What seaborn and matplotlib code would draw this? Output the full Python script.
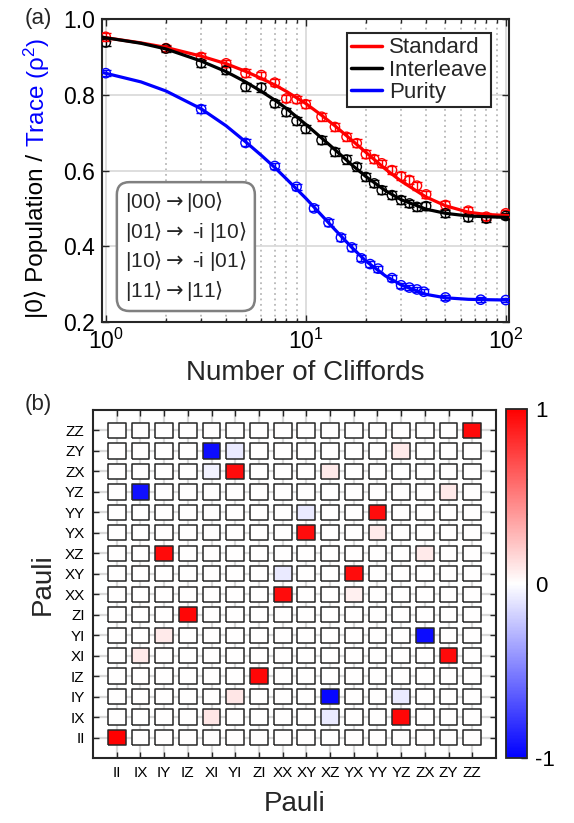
import numpy as np
import pandas as pd
import matplotlib
matplotlib.use('Agg')
import matplotlib.pyplot as plt
import seaborn as sns
from matplotlib.colors import LinearSegmentedColormap, Normalize
from matplotlib.cm import ScalarMappable
from matplotlib.lines import Line2D

# ---- panel (a): randomized benchmarking data ----
std_x = [1, 2, 3, 4, 5, 6, 7, 8, 9, 10, 12, 14, 16, 18, 20, 22, 24, 27, 30, 33, 36, 40, 50, 65, 80, 100]
std_y = [0.953, 0.923, 0.900, 0.883, 0.857, 0.852, 0.832, 0.790, 0.788, 0.775, 0.742, 0.715, 0.689,
         0.672, 0.643, 0.630, 0.619, 0.601, 0.585, 0.575, 0.560, 0.537, 0.509, 0.494, 0.478, 0.487]
std_err = [0.010, 0.008, 0.009, 0.010, 0.010, 0.009, 0.010, 0.010, 0.009, 0.010, 0.010, 0.011, 0.010,
           0.010, 0.011, 0.010, 0.010, 0.011, 0.010, 0.010, 0.011, 0.010, 0.010, 0.009, 0.009, 0.009]

int_x = [1, 2, 3, 4, 5, 6, 7, 8, 9, 10, 12, 14, 16, 18, 20, 22, 24, 27, 30, 33, 36, 40, 50, 65, 80, 100]
int_y = [0.938, 0.922, 0.883, 0.865, 0.821, 0.819, 0.777, 0.754, 0.731, 0.710, 0.680, 0.649, 0.629,
         0.610, 0.583, 0.566, 0.548, 0.535, 0.522, 0.513, 0.504, 0.506, 0.487, 0.476, 0.473, 0.480]
int_err = [0.010, 0.008, 0.010, 0.010, 0.010, 0.011, 0.010, 0.010, 0.010, 0.011, 0.010, 0.010, 0.011,
           0.010, 0.010, 0.010, 0.011, 0.010, 0.010, 0.010, 0.010, 0.011, 0.009, 0.009, 0.009, 0.009]

pur_x = [1, 3, 5, 7, 9, 11, 13, 15, 17, 19, 21, 23, 27, 30, 33, 36, 39, 50, 75, 100]
pur_y = [0.857, 0.762, 0.673, 0.612, 0.557, 0.500, 0.463, 0.423, 0.397, 0.368, 0.353, 0.341,
         0.316, 0.297, 0.291, 0.286, 0.280, 0.265, 0.259, 0.258]
pur_err = [0.008, 0.010, 0.009, 0.009, 0.008, 0.008, 0.009, 0.010, 0.009, 0.008, 0.008, 0.008,
           0.008, 0.007, 0.007, 0.007, 0.007, 0.006, 0.006, 0.006]

# fitted decay curves
fit_x = [0.96, 1.5, 2, 3, 4, 5, 6, 7, 8, 10, 12, 14, 17, 20, 25, 30, 40, 50, 65, 80, 104]
std_fit = [0.952, 0.937, 0.925, 0.902, 0.882, 0.862, 0.843, 0.826, 0.809, 0.777, 0.746, 0.718,
           0.680, 0.648, 0.604, 0.572, 0.530, 0.507, 0.490, 0.484, 0.481]
int_fit = [0.952, 0.936, 0.921, 0.889, 0.861, 0.834, 0.809, 0.786, 0.764, 0.722, 0.686, 0.655,
           0.615, 0.584, 0.547, 0.523, 0.498, 0.487, 0.480, 0.478, 0.476]
pur_fit = [0.859, 0.834, 0.810, 0.763, 0.718, 0.676, 0.640, 0.608, 0.578, 0.527, 0.482, 0.444,
           0.397, 0.361, 0.322, 0.298, 0.273, 0.264, 0.260, 0.259, 0.258]

# ---- panel (b): Pauli transfer matrix (non-zero entries) ----
pauli = ['II', 'IX', 'IY', 'IZ', 'XI', 'YI', 'ZI', 'XX', 'XY', 'XZ', 'YX', 'YY', 'YZ', 'ZX', 'ZY', 'ZZ']
ptm_row = ['II', 'IX', 'IY', 'IZ', 'XI', 'YI', 'ZI', 'XX', 'XY', 'XZ', 'YX', 'YY', 'YZ', 'ZX', 'ZY', 'ZZ',
           'ZY', 'ZY', 'ZX', 'ZX', 'YZ', 'YY', 'YX', 'XZ', 'XY', 'XX', 'YI', 'XI', 'IY', 'IY', 'IX', 'IX']
ptm_col = ['II', 'YZ', 'XZ', 'ZI', 'ZY', 'ZX', 'IZ', 'XX', 'YX', 'IY', 'XY', 'YY', 'IX', 'YI', 'XI', 'ZZ',
           'YI', 'YZ', 'XI', 'XZ', 'ZY', 'XY', 'YY', 'ZX', 'XX', 'YX', 'IY', 'IX', 'YI', 'YZ', 'XI', 'XZ']
ptm_val = [1.00, 0.97, -0.97, 0.97, 0.96, -0.95, 0.97, 0.95, 0.95, 0.96, 0.95, 0.95, -0.93, 0.95, -0.95, 0.96,
           -0.08, 0.08, -0.05, 0.08, 0.08, -0.08, 0.08, 0.08, -0.08, 0.06, 0.08, 0.08, 0.10, -0.08, 0.10, -0.08]

sns.set_style('ticks')
plt.rcParams['font.family'] = ['Liberation Sans', 'DejaVu Sans']
plt.rcParams['mathtext.fontset'] = 'custom'
plt.rcParams['mathtext.rm'] = 'Liberation Sans'
plt.rcParams['mathtext.it'] = 'Liberation Sans:italic'
plt.rcParams['mathtext.bf'] = 'Liberation Sans:bold'
plt.rcParams['mathtext.sf'] = 'DejaVu Sans'
plt.rcParams['mathtext.default'] = 'regular'
plt.rcParams['axes.edgecolor'] = '0.15'
plt.rcParams['xtick.color'] = '0.15'
plt.rcParams['ytick.color'] = '0.15'
plt.rcParams['xtick.labelcolor'] = 'black'
plt.rcParams['ytick.labelcolor'] = 'black'

fig = plt.figure(figsize=(5.74, 8.23), dpi=100)

# ================= (a) =================
ax = fig.add_axes([0.1777, 0.6087, 0.7091, 0.3682])
series = [(std_x, std_y, std_err, std_fit, '#ff0000'),
          (int_x, int_y, int_err, int_fit, '#000000'),
          (pur_x, pur_y, pur_err, pur_fit, '#0000ff')]
for xs, ys, es, fit, c in series:
    ax.errorbar(xs, ys, yerr=es, fmt='none', ecolor=c, elinewidth=1.0, capsize=3.5,
                capthick=1.0, zorder=3)
    sns.scatterplot(x=xs, y=ys, ax=ax, marker='o', s=45, facecolor='none', edgecolor=c,
                    linewidth=1.0, zorder=4, legend=False)
    sns.lineplot(x=fit_x, y=fit, ax=ax, color=c, lw=2.3, zorder=5, legend=False)

ax.set_xscale('log')
ax.set_xlim(0.958, 103.9)
ax.set_ylim(0.2, 1.0)
ax.set_yticks([0.2, 0.4, 0.6, 0.8, 1.0])
ax.set_yticklabels(['0.2', '0.4', '0.6', '0.8', '1.0'])
ax.grid(which='major', color='0.86', lw=1.3, ls='-')
ax.grid(which='minor', axis='x', color='0.72', lw=1.3, ls=(0, (1, 2)))
ax.set_axisbelow(True)
ax.tick_params(which='both', direction='in', top=True, right=True, width=1.0)
ax.tick_params(which='major', length=5, labelsize=16.5, pad=5)
ax.tick_params(which='minor', length=3)
ax.tick_params(axis='y', which='minor', left=False, right=False)
for s in ax.spines.values():
    s.set_linewidth(1.5)
ax.set_xlabel('Number of Cliffords', fontsize=20, labelpad=4)
ax.set_ylabel('')

handles = [Line2D([], [], color='#ff0000', lw=2.5),
           Line2D([], [], color='#000000', lw=2.5),
           Line2D([], [], color='#0000ff', lw=2.5)]
leg = ax.legend(handles, ['Standard', 'Interleave', 'Purity'], loc='upper right',
                bbox_to_anchor=(0.956, 0.954), borderaxespad=0, fontsize=16,
                fancybox=False, framealpha=1, edgecolor='0.15', handlelength=1.4,
                handletextpad=0.3, labelspacing=0.05, borderpad=0.2)
leg.get_frame().set_linewidth(1.5)

ket_arrow = '$\\mathsf{\u27e9\\rightarrow}$'
ket_end = '$\\mathsf{\u27e9}$'
mapping = ['|00' + ket_arrow + '|00' + ket_end,
           '|01' + ket_arrow + ' -i |10' + ket_end,
           '|10' + ket_arrow + ' -i |01' + ket_end,
           '|11' + ket_arrow + '|11' + ket_end]
ax.text(0.206, 0.249, '\n'.join(mapping),
        transform=ax.transAxes, ha='center', va='center', fontsize=15, linespacing=1.3,
        multialignment='left', zorder=6,
        bbox=dict(boxstyle='round,pad=0.4,rounding_size=0.6', fc='white', ec='0.5', lw=1.8))

# two-coloured y label
fig.canvas.draw()
renderer = fig.canvas.get_renderer()
t1 = fig.text(0.064, 0.0, '|0\u27e9 Population / ', rotation=90, fontsize=17.5,
              ha='center', va='bottom', color='black')
t2 = fig.text(0.064, 0.0, 'Trace (\u03c1$^2$)', rotation=90, fontsize=17.5,
              ha='center', va='bottom', color='#0000ff')
h1 = t1.get_window_extent(renderer).height / fig.bbox.height
h2 = t2.get_window_extent(renderer).height / fig.bbox.height
yc = 1 - 178 / 823
y0 = yc - (h1 + h2) / 2
t1.set_y(y0)
t2.set_y(y0 + h1)

fig.text(0.066, 0.978, '(a)', fontsize=16, ha='center', va='center')

# ================= (b) =================
grid = np.zeros((len(pauli), len(pauli)))
for r, c, v in zip(ptm_row, ptm_col, ptm_val):
    grid[pauli.index(r), pauli.index(c)] = v
df = pd.DataFrame([(j, i, grid[i, j]) for i in range(len(pauli)) for j in range(len(pauli))],
                  columns=['col', 'row', 'val'])

cmap = LinearSegmentedColormap.from_list('bwr_pure', ['#0000ff', '#ffffff', '#ff0000'])
ax2 = fig.add_axes([0.162, 0.079, 0.7021, 0.4228])
cell = [(-1, -0.864), (1, -0.864), (1, 0.864), (-1, 0.864), (-1, -0.864)]
sns.scatterplot(data=df, x='col', y='row', hue='val', palette=cmap, hue_norm=(-1, 1),
                marker=cell, s=163, edgecolor='0.15', linewidth=1.1, legend=False,
                ax=ax2, zorder=3)
ax2.set_xlim(-1, 16)
ax2.set_ylim(-1, 16)
ax2.set_xticks(range(len(pauli)))
ax2.set_yticks(range(len(pauli)))
ax2.set_xticklabels(pauli)
ax2.set_yticklabels(pauli)
ax2.grid(True, color='0.85', lw=1.6)
ax2.set_axisbelow(True)
ax2.tick_params(direction='in', top=True, right=True, length=4, width=1.0,
                labelsize=11, pad=6)
for s in ax2.spines.values():
    s.set_linewidth(1.5)
ax2.set_xlabel('Pauli', fontsize=20, labelpad=8)
ax2.set_ylabel('Pauli', fontsize=20, labelpad=6)

cax = fig.add_axes([0.8815, 0.079, 0.0366, 0.424])
cb = fig.colorbar(ScalarMappable(norm=Normalize(-1, 1), cmap=cmap), cax=cax)
cb.set_ticks(np.linspace(-1, 1, 11))
cb.set_ticklabels(['-1', '', '', '', '', '0', '', '', '', '', '1'])
cax.tick_params(direction='in', length=4, width=1.0, labelsize=16, pad=6)
cb.outline.set_linewidth(1.3)
cb.outline.set_edgecolor('0.15')

fig.text(0.066, 0.508, '(b)', fontsize=16, ha='center', va='center')

fig.savefig('out.png', dpi=100)
